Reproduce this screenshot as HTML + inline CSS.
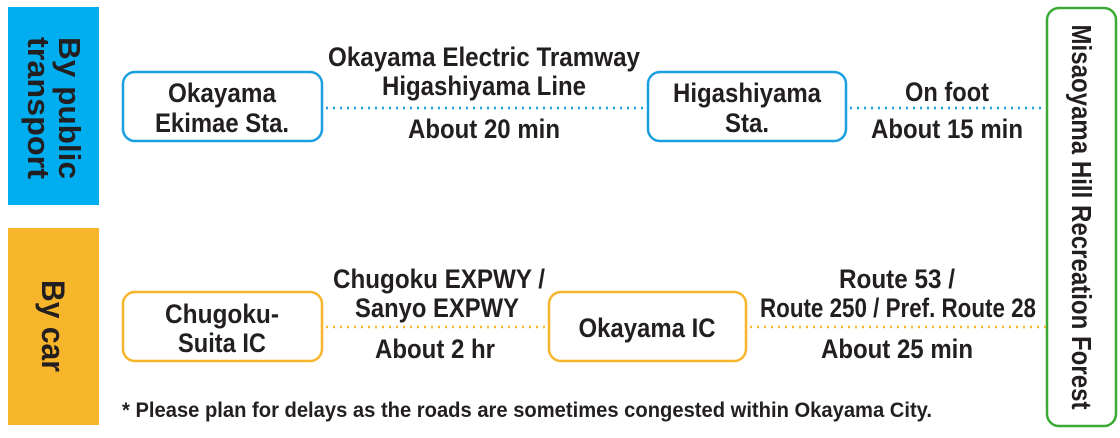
<!DOCTYPE html>
<html><head><meta charset="utf-8"><style>
html,body{margin:0;padding:0;background:#fff;}
svg{display:block;}
text{font-family:"Liberation Sans Narrow","Liberation Sans",sans-serif;font-weight:bold;fill:#231f20;}
</style></head><body>
<svg width="1120" height="438" viewBox="0 0 1120 438" xmlns="http://www.w3.org/2000/svg">
<rect x="8" y="7" width="91" height="198" fill="#00aeef"/>
<rect x="8" y="228" width="91" height="197" fill="#f7b52b"/>
<rect x="1047" y="8" width="69" height="418" rx="12" fill="#fff" stroke="#3aaa35" stroke-width="2.5"/>

<g transform="translate(53,108) rotate(90)" font-size="31">
<text x="0" y="-6" text-anchor="middle" textLength="142" lengthAdjust="spacingAndGlyphs">By public</text>
<text x="0" y="25" text-anchor="middle" textLength="142" lengthAdjust="spacingAndGlyphs">transport</text>
</g>
<g transform="translate(53,326) rotate(90)" font-size="32">
<text x="0" y="11" text-anchor="middle" textLength="92" lengthAdjust="spacingAndGlyphs">By car</text>
</g>
<g transform="translate(1082,217) rotate(90)" font-size="28">
<text x="0" y="10" text-anchor="middle" textLength="385" lengthAdjust="spacingAndGlyphs">Misaoyama Hill Recreation Forest</text>
</g>

<g fill="none" stroke-width="2.5">
<rect x="123" y="72" width="199" height="69" rx="12" stroke="#1a9fe0"/>
<rect x="648" y="72" width="198" height="69" rx="12" stroke="#1a9fe0"/>
<rect x="123" y="292" width="199" height="69" rx="12" stroke="#f7b52b"/>
<rect x="549" y="292" width="197" height="69" rx="12" stroke="#f7b52b"/>
</g>
<g stroke-width="2.5" stroke-dasharray="2 5" fill="none">
<line x1="326" y1="108" x2="646" y2="108" stroke="#1a9fe0"/>
<line x1="850" y1="108" x2="1046" y2="108" stroke="#1a9fe0"/>
<line x1="326" y1="327" x2="547" y2="327" stroke="#f7b52b"/>
<line x1="750" y1="327" x2="1046" y2="327" stroke="#f7b52b"/>
</g>

<g font-size="27" text-anchor="middle">
<text x="222" y="102" textLength="108" lengthAdjust="spacingAndGlyphs">Okayama</text>
<text x="222" y="132" textLength="134" lengthAdjust="spacingAndGlyphs">Ekimae Sta.</text>
<text x="747" y="102" textLength="148" lengthAdjust="spacingAndGlyphs">Higashiyama</text>
<text x="747" y="132" textLength="44" lengthAdjust="spacingAndGlyphs">Sta.</text>
<text x="222" y="323" textLength="114" lengthAdjust="spacingAndGlyphs">Chugoku-</text>
<text x="222" y="352" textLength="88" lengthAdjust="spacingAndGlyphs">Suita IC</text>
<text x="647" y="337" textLength="137" lengthAdjust="spacingAndGlyphs">Okayama IC</text>

<text x="484" y="66" textLength="312" lengthAdjust="spacingAndGlyphs">Okayama Electric Tramway</text>
<text x="484" y="95" textLength="204" lengthAdjust="spacingAndGlyphs">Higashiyama Line</text>
<text x="484" y="138" textLength="152" lengthAdjust="spacingAndGlyphs">About 20 min</text>
<text x="947" y="101" textLength="84" lengthAdjust="spacingAndGlyphs">On foot</text>
<text x="947" y="138" textLength="152" lengthAdjust="spacingAndGlyphs">About 15 min</text>
<text x="439" y="288" textLength="212" lengthAdjust="spacingAndGlyphs">Chugoku EXPWY /</text>
<text x="437" y="317" textLength="164" lengthAdjust="spacingAndGlyphs">Sanyo EXPWY</text>
<text x="435" y="358" textLength="120" lengthAdjust="spacingAndGlyphs">About 2 hr</text>
<text x="897" y="288" textLength="116" lengthAdjust="spacingAndGlyphs">Route 53 /</text>
<text x="898" y="317" textLength="276" lengthAdjust="spacingAndGlyphs">Route 250 / Pref. Route 28</text>
<text x="897" y="358" textLength="152" lengthAdjust="spacingAndGlyphs">About 25 min</text>
</g>
<text x="122" y="417" font-size="21" textLength="810" lengthAdjust="spacingAndGlyphs">* Please plan for delays as the roads are sometimes congested within Okayama City.</text>
</svg>
</body></html>
